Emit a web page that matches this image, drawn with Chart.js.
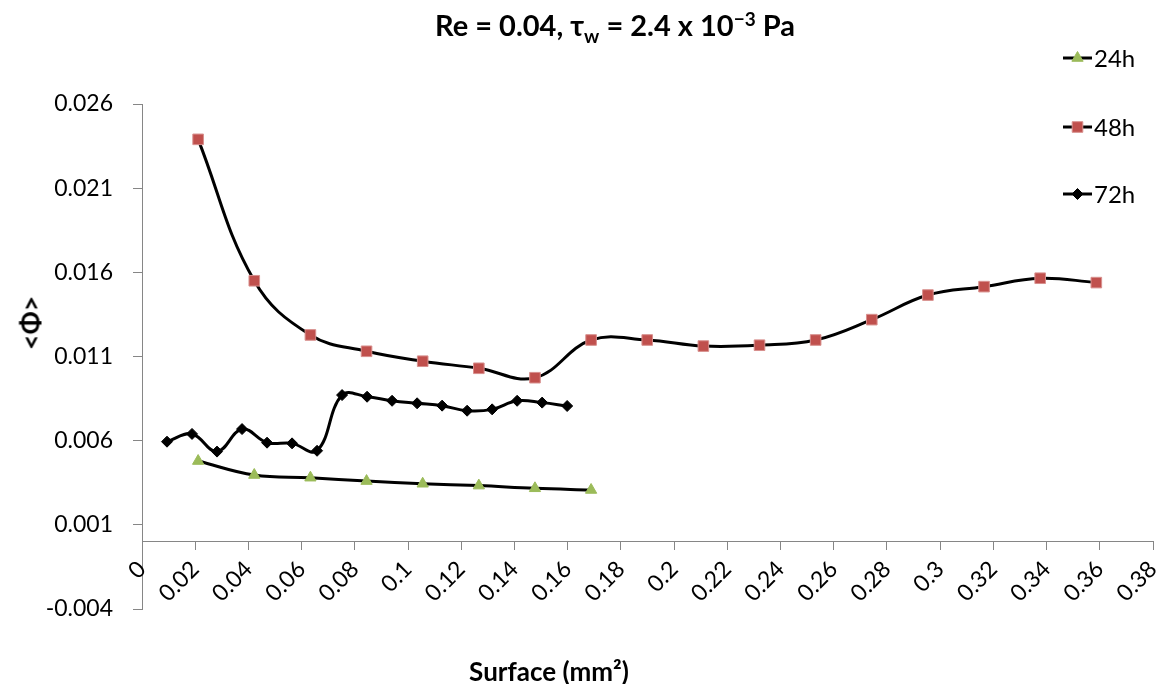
<!DOCTYPE html>
<html>
<head>
<meta charset="utf-8">
<script src="https://cdn.jsdelivr.net/npm/chart.js@4/dist/chart.umd.min.js"></script>
<style>
html, body { margin: 0; padding: 0; background: #fff; }
#wrap { position: relative; width: 1162px; height: 684px; overflow: hidden; }
#c { position: absolute; left: 0; top: 0; }
.t { position: absolute; font-family: Lato, "Open Sans", sans-serif; font-weight: bold; color: #000; white-space: nowrap; line-height: 1; }
#title { top: 10px; left: 0; width: 1230px; text-align: center; font-size: 29px; }
#title .sb { font-size: 19px; position: relative; top: 7px; }
#title .sp { font-size: 19px; position: relative; top: -10px; }
#ytitle { left: 30px; top: 323px; font-size: 27px; transform: translate(-50%, -50%) rotate(-90deg); }
#xtitle { left: 549px; top: 671px; font-size: 26px; transform: translate(-50%, -50%); }
</style>
</head>
<body>
<div id="wrap">
  <canvas id="c" width="1162" height="684"></canvas>
  <div class="t" id="title">Re = 0.04, τ<span class="sb">w</span> = 2.4 x 10<span class="sp">−3</span> Pa</div>
  <div class="t" id="ytitle">&lt;Φ&gt;</div>
  <div class="t" id="xtitle">Surface (mm²)</div>
</div>
<script>
// ---- data ----
const seriesNames = ['24h', '48h', '72h'];

const x24 = [0.0211, 0.0422, 0.0633, 0.0844, 0.1055, 0.1266, 0.1477, 0.1688];
const y24 = [0.00479, 0.00396, 0.0038, 0.0036, 0.00344, 0.00333, 0.00317, 0.00307];

const x48 = [0.0211, 0.0422, 0.0633, 0.0844, 0.1055, 0.1266, 0.1477, 0.1688, 0.1899,
             0.2110, 0.2321, 0.2532, 0.2743, 0.2954, 0.3165, 0.3376, 0.3587];
const y48 = [0.0239, 0.0155, 0.01228, 0.01131, 0.01072, 0.0103, 0.00974, 0.01198, 0.01198,
             0.01162, 0.01167, 0.01198, 0.01319, 0.01465, 0.01515, 0.01565, 0.01539];

const x72 = [0.0094, 0.0188, 0.0282, 0.0376, 0.0470, 0.0564, 0.0658, 0.0752, 0.0846,
             0.0940, 0.1034, 0.1128, 0.1222, 0.1316, 0.1410, 0.1504, 0.1598];
const y72 = [0.00594, 0.0064, 0.00535, 0.00669, 0.00588, 0.00584, 0.0054, 0.00871, 0.00861,
             0.00837, 0.00822, 0.00808, 0.00778, 0.00786, 0.00837, 0.00826, 0.00806];

const xTickValues = [0, 0.02, 0.04, 0.06, 0.08, 0.1, 0.12, 0.14, 0.16, 0.18, 0.2,
                     0.22, 0.24, 0.26, 0.28, 0.3, 0.32, 0.34, 0.36, 0.38];
const yTickValues = [-0.004, 0.001, 0.006, 0.011, 0.016, 0.021, 0.026];

// ---- chart ----
const FONT = 'Lato, "Open Sans", sans-serif';
const pts = (xs, ys) => xs.map((x, i) => ({ x: x, y: ys[i] }));

function drawMarker(ctx, style, x, y, r, fill, stroke) {
  ctx.beginPath();
  if (style === 'triangle') {
    ctx.moveTo(x, y - r);
    ctx.lineTo(x + r * 0.866, y + r / 2);
    ctx.lineTo(x - r * 0.866, y + r / 2);
    ctx.closePath();
  } else if (style === 'rect') {
    const s = r * Math.SQRT1_2;
    ctx.rect(x - s, y - s, 2 * s, 2 * s);
  } else {
    ctx.moveTo(x, y - r);
    ctx.lineTo(x + r, y);
    ctx.lineTo(x, y + r);
    ctx.lineTo(x - r, y);
    ctx.closePath();
  }
  ctx.fillStyle = fill;
  ctx.fill();
  ctx.strokeStyle = stroke;
  ctx.lineWidth = 1;
  ctx.stroke();
}

const sideLegend = {
  id: 'sideLegend',
  afterDraw(chart) {
    const ctx = chart.ctx;
    const rows = [58, 127, 194];
    ctx.save();
    chart.data.datasets.forEach((ds, i) => {
      const y = rows[i];
      ctx.beginPath();
      ctx.moveTo(1063, y);
      ctx.lineTo(1092, y);
      ctx.strokeStyle = '#000';
      ctx.lineWidth = 3;
      ctx.stroke();
      drawMarker(ctx, ds.pointStyle, 1077.5, y, ds.pointRadius, ds.pointBackgroundColor, ds.pointBorderColor);
      ctx.fillStyle = '#000';
      ctx.font = '24px ' + FONT;
      ctx.textBaseline = 'middle';
      ctx.textAlign = 'left';
      ctx.fillText(ds.label, 1094, y + 1);
    });
    ctx.restore();
  }
};

new Chart(document.getElementById('c'), {
  type: 'line',
  data: {
    datasets: [
      { label: seriesNames[0], data: pts(x24, y24), borderColor: '#000', borderWidth: 3,
        pointStyle: 'triangle', pointRadius: 6.5, pointBackgroundColor: '#9BBB59',
        pointBorderColor: '#9BBB59', pointBorderWidth: 1, tension: 0.4 },
      { label: seriesNames[1], data: pts(x48, y48), borderColor: '#000', borderWidth: 3,
        pointStyle: 'rect', pointRadius: 7.5, pointBackgroundColor: '#C0504D',
        pointBorderColor: '#D8908E', pointBorderWidth: 1, tension: 0.4 },
      { label: seriesNames[2], data: pts(x72, y72), borderColor: '#000', borderWidth: 3,
        pointStyle: 'rectRot', pointRadius: 5.5, pointBackgroundColor: '#000',
        pointBorderColor: '#000', pointBorderWidth: 1, tension: 0.4 }
    ]
  },
  options: {
    responsive: false,
    animation: false,
    devicePixelRatio: 1,
    layout: { padding: { top: 104, bottom: 75, right: 9, left: 0 } },
    plugins: {
      legend: { display: false },
      title: { display: false },
      tooltip: { enabled: false }
    },
    scales: {
      y: {
        type: 'linear', position: 'left', min: -0.004, max: 0.026,
        afterBuildTicks: s => { s.ticks = yTickValues.map(v => ({ value: v })); },
        afterFit: s => { s.width = 142; },
        ticks: { font: { family: FONT, size: 23 }, color: '#000', padding: 20,
                 callback: v => Number(v).toFixed(3) },
        grid: { display: true, drawOnChartArea: false, drawTicks: true, tickLength: 9,
                color: '#868686', lineWidth: 1 },
        border: { display: true, color: '#868686', width: 1 }
      },
      x: {
        type: 'linear', position: { y: 0 }, min: 0, max: 0.38,
        afterBuildTicks: s => { s.ticks = xTickValues.map(v => ({ value: v })); },
        afterFit: s => { s.paddingLeft = 0; s.paddingRight = 0; },
        ticks: { font: { family: FONT, size: 23 }, color: '#000', minRotation: 45, maxRotation: 45,
                 autoSkip: false, padding: 6, callback: v => String(+Number(v).toFixed(2)) },
        grid: { display: true, drawOnChartArea: false, drawTicks: true, tickLength: 8,
                color: '#868686', lineWidth: 1 },
        border: { display: true, color: '#868686', width: 1 }
      }
    }
  },
  plugins: [sideLegend]
});
</script>
</body>
</html>
